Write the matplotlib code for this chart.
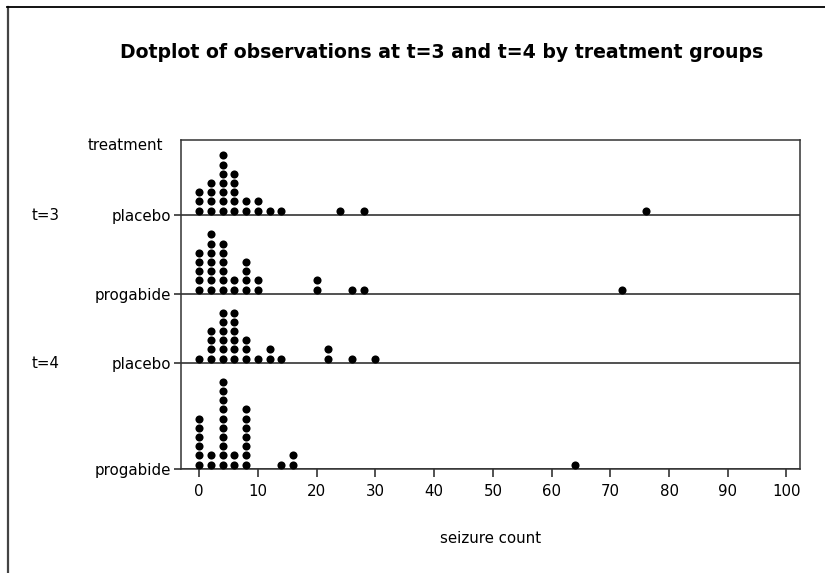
import numpy as np
import matplotlib.pyplot as plt
from matplotlib.lines import Line2D

# dot positions (seizure count bins) and how many dots stack at each
t3_placebo_x = [0, 2, 4, 6, 8, 10, 12, 14, 24, 28, 76]
t3_placebo_n = [3, 4, 7, 5, 2, 2, 1, 1, 1, 1, 1]

t3_progabide_x = [0, 2, 4, 6, 8, 10, 20, 26, 28, 72]
t3_progabide_n = [5, 7, 6, 2, 4, 2, 2, 1, 1, 1]

t4_placebo_x = [0, 2, 4, 6, 8, 10, 12, 14, 22, 26, 30]
t4_placebo_n = [1, 4, 6, 6, 3, 1, 2, 1, 2, 1, 1]

t4_progabide_x = [0, 2, 4, 6, 8, 14, 16, 64]
t4_progabide_n = [6, 2, 10, 2, 7, 1, 2, 1]

groups = [(t3_placebo_x, t3_placebo_n),
          (t3_progabide_x, t3_progabide_n),
          (t4_placebo_x, t4_placebo_n),
          (t4_progabide_x, t4_progabide_n)]
row_labels = ['placebo', 'progabide', 'placebo', 'progabide']
time_labels = ['t=3', 't=4']
x_ticks = list(range(0, 101, 10))

W, H = 825, 573
fig = plt.figure(figsize=(W / 100, H / 100), dpi=100)
plt.rcParams['font.family'] = 'DejaVu Sans'
fs = 10.8

# plot box in pixels: left, right, top, bottom
L, R, T, B = 181, 800, 140, 469
ax = fig.add_axes([L / W, (H - B) / H, (R - L) / W, (B - T) / H])

# baselines of the four rows (pixels from top)
bases = [215, 294, 363, 469]
step = 9.2
for (xs, ns), base in zip(groups, bases):
    px, py = [], []
    for x, n in zip(xs, ns):
        for k in range(n):
            px.append(x)
            py.append(base - 4.5 - step * k)
    ax.scatter(px, py, s=34, color='black', linewidths=0, zorder=3)
    ax.axhline(base, color='#222222', lw=1.1, zorder=2)

ax.set_xlim(-3.1, 102.3)
ax.set_ylim(B, T)

ax.set_yticks(bases)
ax.set_yticklabels(row_labels)
ax.set_xticks(x_ticks)
ax.tick_params(axis='both', direction='out', length=5, width=1.1,
               color='#222222', labelsize=fs, pad=2)
ax.tick_params(axis='x', length=6, pad=5)
for s in ax.spines.values():
    s.set_color('#333333')
    s.set_linewidth(1.1)

ax.set_xlabel('seizure count', fontsize=fs, labelpad=23)

fig.text((115 + 768) / 2 / W, 1 - 53 / H,
         'Dotplot of observations at t=3 and t=4 by treatment groups',
         ha='center', va='center', fontsize=13.6, fontweight='bold')
fig.text(88 / W, 1 - 146 / H, 'treatment', ha='left', va='center',
         fontsize=fs)
for lab, base in zip(time_labels, [bases[0], bases[2]]):
    fig.text(32 / W, 1 - base / H, lab, ha='left', va='center',
             fontsize=fs)

# outer frame (left and top edges)
fig.add_artist(Line2D([7.5 / W, 7.5 / W], [0, 1 - 7 / H],
                      transform=fig.transFigure, color='#444444', lw=1.6))
fig.add_artist(Line2D([7 / W, 1], [1 - 7 / H, 1 - 7 / H],
                      transform=fig.transFigure, color='black', lw=1.3))

fig.savefig('out.png', dpi=100)
